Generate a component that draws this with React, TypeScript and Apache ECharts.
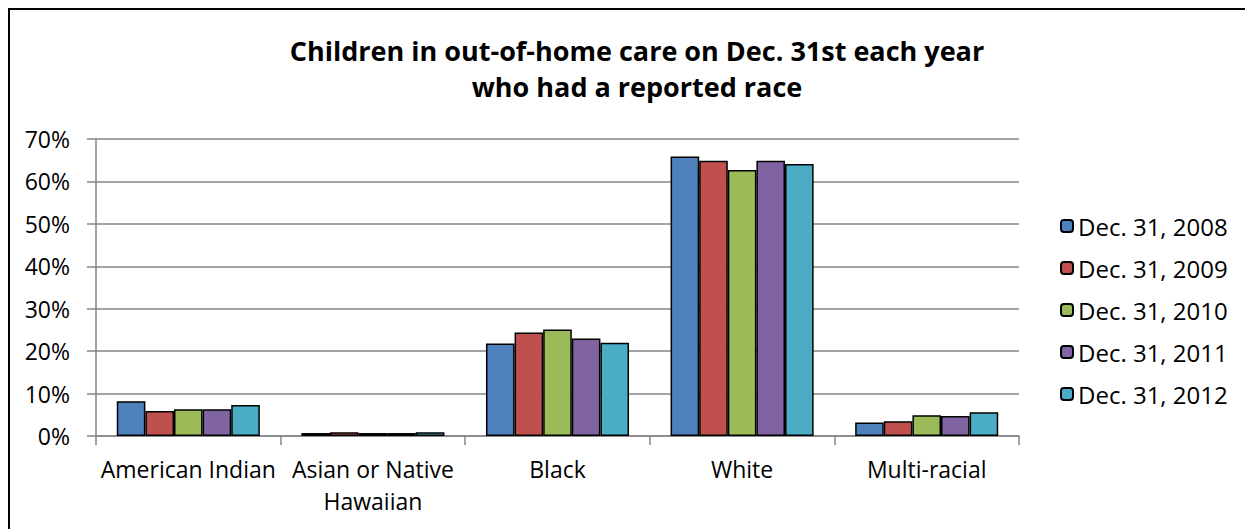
import React, { useEffect, useRef } from "react";
import * as echarts from "echarts";

const categories = ["American Indian", "Asian or Native\nHawaiian", "Black", "White", "Multi-racial"];
const seriesNames = ["Dec. 31, 2008", "Dec. 31, 2009", "Dec. 31, 2010", "Dec. 31, 2011", "Dec. 31, 2012"];
const colors = ["#4F81BD", "#C0504D", "#9BBB59", "#8064A2", "#4BACC6"];
const v2008 = [8.2, 0.7, 21.8, 65.9, 3.2];
const v2009 = [5.9, 0.9, 24.4, 64.9, 3.5];
const v2010 = [6.3, 0.7, 25.1, 62.7, 4.9];
const v2011 = [6.3, 0.7, 23.0, 64.9, 4.7];
const v2012 = [7.3, 0.9, 22.0, 64.1, 5.6];
const allValues = [v2008, v2009, v2010, v2011, v2012];
const titleLines = ["Children in out-of-home care on Dec. 31st each year", "who had a reported race"];

const FONT = "'Open Sans', sans-serif";

export default function App() {
  const ref = useRef<HTMLDivElement>(null);
  useEffect(() => {
    document.body.style.overflow = "hidden";
    const chart = echarts.init(ref.current!, null, { renderer: "svg" });
    chart.setOption({
      animation: false,
      textStyle: { fontFamily: FONT },
      graphic: [
        {
          type: "text",
          x: 627,
          y: 40,
          style: {
            text: titleLines[0],
            font: `bold 27px ${FONT}`,
            fill: "#000",
            textAlign: "center",
            textVerticalAlign: "middle",
          },
        },
        {
          type: "text",
          x: 627,
          y: 76,
          style: {
            text: titleLines[1],
            font: `bold 27px ${FONT}`,
            fill: "#000",
            textAlign: "center",
            textVerticalAlign: "middle",
          },
        },
      ],
      legend: {
        orient: "vertical",
        left: 1050,
        top: 204,
        padding: 0,
        itemWidth: 12,
        itemHeight: 12,
        itemGap: 18,
        textStyle: { fontSize: 24, color: "#000", fontFamily: FONT },
        data: seriesNames,
      },
      grid: { left: 86, top: 129, width: 923, height: 297 },
      xAxis: {
        type: "category",
        data: categories,
        axisLine: { lineStyle: { color: "#868686", width: 1.5 } },
        axisTick: { show: true, length: 9, lineStyle: { color: "#868686", width: 1.5 } },
        axisLabel: { color: "#000", fontSize: 23, margin: 17, lineHeight: 32, interval: 0, fontFamily: FONT },
      },
      yAxis: {
        type: "value",
        min: 0,
        max: 70,
        interval: 10,
        axisLine: { show: true, lineStyle: { color: "#868686", width: 1.5 } },
        axisTick: { show: true, length: 9, lineStyle: { color: "#868686", width: 1.5 } },
        splitLine: { lineStyle: { color: "#868686", width: 1.5 } },
        axisLabel: { color: "#000", fontSize: 23, margin: 26, formatter: "{value}%", fontFamily: FONT },
      },
      series: seriesNames.map((name, i) => ({
        name,
        type: "bar",
        data: allValues[i],
        barGap: "0%",
        barCategoryGap: "22.5%",
        itemStyle: { color: colors[i], borderColor: "#000", borderWidth: 1.5 },
      })),
    });
    return () => chart.dispose();
  }, []);
  return (
    <div
      style={{
        width: 1245,
        height: 521,
        borderTop: "2px solid #000",
        borderLeft: "2px solid #000",
        boxSizing: "border-box",
      }}
    >
      <div ref={ref} style={{ width: 1243, height: 519 }} />
    </div>
  );
}
